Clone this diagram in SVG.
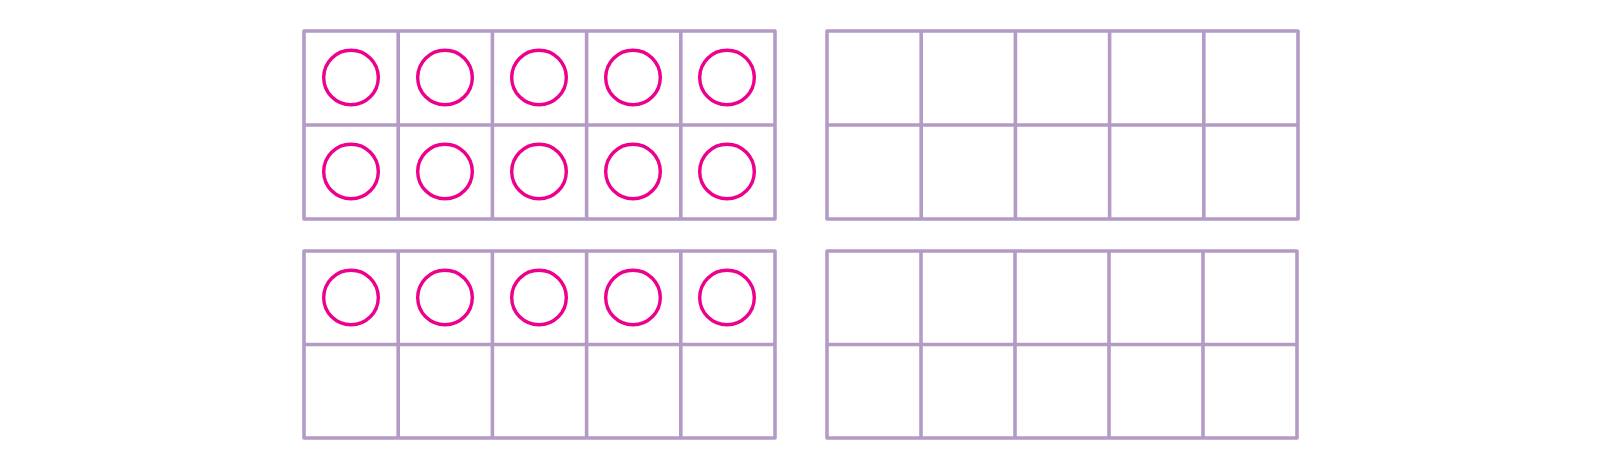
<svg xmlns="http://www.w3.org/2000/svg" width="1600" height="470" viewBox="0 0 1600 470">
<defs>
<style>
.g{fill:none;stroke:#b39bc6;stroke-width:3.6;stroke-linejoin:round;stroke-linecap:round}
.c{fill:none;stroke:#ec008c;stroke-width:3.4}
</style>
<g id="cells">
<path class="g" d="M0,0H471V188H0Z M0,94H471 M94.2,0V188 M188.4,0V188 M282.6,0V188 M376.8,0V188"/>
</g>
</defs>
<rect width="1600" height="470" fill="#fff"/>
<g id="frame-top-left">
<use href="#cells" x="304" y="31"/>
<circle class="c" cx="351" cy="77.5" r="27.3"/>
<circle class="c" cx="445" cy="77.5" r="27.3"/>
<circle class="c" cx="539" cy="77.5" r="27.3"/>
<circle class="c" cx="633" cy="77.5" r="27.3"/>
<circle class="c" cx="727" cy="77.5" r="27.3"/>
<circle class="c" cx="351" cy="171.5" r="27.3"/>
<circle class="c" cx="445" cy="171.5" r="27.3"/>
<circle class="c" cx="539" cy="171.5" r="27.3"/>
<circle class="c" cx="633" cy="171.5" r="27.3"/>
<circle class="c" cx="727" cy="171.5" r="27.3"/>
</g>
<g id="frame-top-right">
<use href="#cells" x="827" y="31"/>
</g>
<g id="frame-bottom-left">
<path class="g" d="M304,251H775V438H304Z M304,344.5H775 M398.2,251V438 M492.4,251V438 M586.6,251V438 M680.8,251V438"/>
<circle class="c" cx="351" cy="297.5" r="27.3"/>
<circle class="c" cx="445" cy="297.5" r="27.3"/>
<circle class="c" cx="539" cy="297.5" r="27.3"/>
<circle class="c" cx="633" cy="297.5" r="27.3"/>
<circle class="c" cx="727" cy="297.5" r="27.3"/>
</g>
<g id="frame-bottom-right">
<path class="g" d="M827,251H1297V438H827Z M827,344.5H1297 M921,251V438 M1015,251V438 M1109,251V438 M1203,251V438"/>
</g>
<g id="connectors"></g>
</svg>
